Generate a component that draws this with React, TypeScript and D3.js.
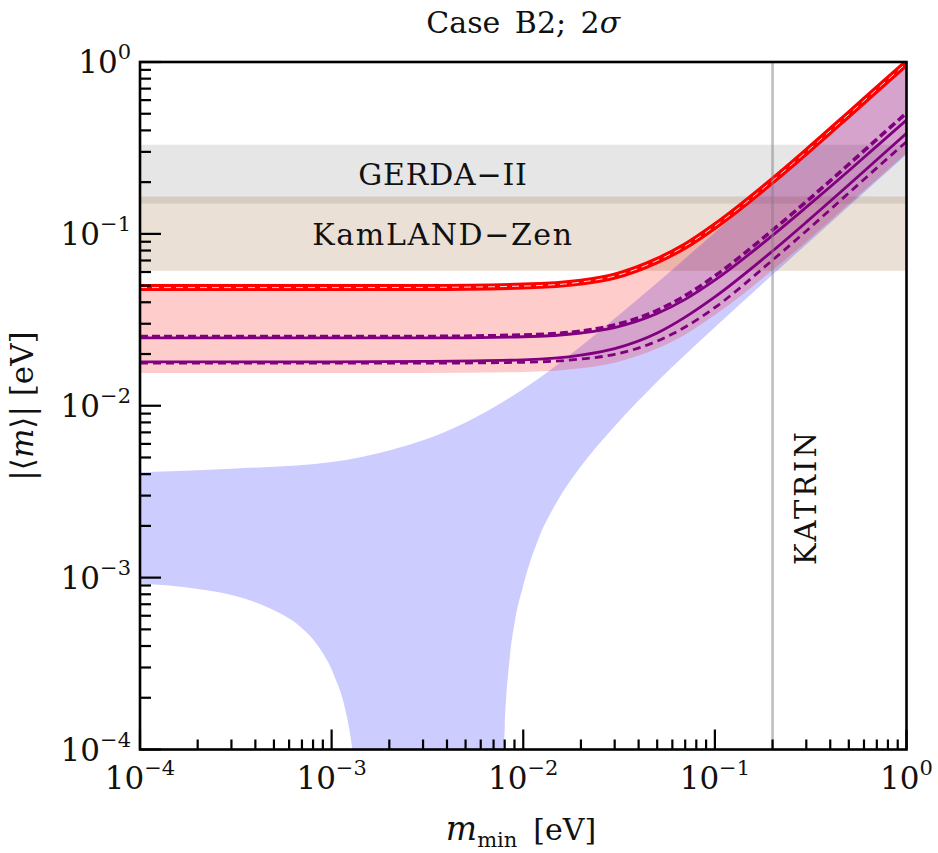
import React from 'react';
import * as d3 from 'd3';

const W = 938;
const H = 853;
const plot = { left: 140, right: 906.5, top: 62, bottom: 749.5 };
const FONT = '"DejaVu Serif", "Liberation Serif", serif';

// experimental bands, eV
const gerdaBand = [0.15, 0.33];
const kamlandBand = [0.061, 0.165];
const katrinLimit = 0.2;

// tick labels
const decades = [1e-4, 1e-3, 1e-2, 1e-1, 1];
const exponents = ['−4', '−3', '−2', '−1', '0'];

// IO curves on a common m_min grid (eV)
const ioM = [1e-4, 1e-3, 3e-3, 1e-2, 2e-2, 3e-2, 5e-2, 7e-2, 0.1, 0.2, 0.3, 0.5, 0.7, 1.0];
const ioUpper = [0.0487, 0.0487, 0.0488, 0.0497, 0.0524, 0.0568, 0.0700, 0.0850, 0.111, 0.204, 0.300, 0.496, 0.693, 0.985];
const ioLower = [0.0155, 0.0155, 0.0155, 0.0157, 0.0165, 0.0178, 0.0215, 0.0260, 0.0337, 0.0615, 0.090, 0.149, 0.207, 0.295];
const dashedUpper = [0.0253, 0.0253, 0.0253, 0.0258, 0.0272, 0.0295, 0.0359, 0.0437, 0.0569, 0.105, 0.154, 0.254, 0.355, 0.505];
const solidUpper = [0.0248, 0.0248, 0.0248, 0.0252, 0.0265, 0.0285, 0.0344, 0.0416, 0.0538, 0.098, 0.143, 0.233, 0.324, 0.459];
const solidLower = [0.0180, 0.0180, 0.0181, 0.0185, 0.0197, 0.0215, 0.0265, 0.0328, 0.0430, 0.0795, 0.117, 0.193, 0.270, 0.385];
const dashedLower = [0.0177, 0.0177, 0.0177, 0.0179, 0.0187, 0.0199, 0.0238, 0.0287, 0.0373, 0.0704, 0.104, 0.173, 0.242, 0.344];

// NO band
const noUpperM = [1e-4, 3e-4, 1e-3, 2e-3, 3e-3, 5e-3, 1e-2, 2e-2, 3e-2, 5e-2, 0.1, 0.2, 0.5, 1.0];
const noUpper = [0.0041, 0.0043, 0.0047, 0.0055, 0.0063, 0.0080, 0.0125, 0.0222, 0.0322, 0.052, 0.102, 0.203, 0.50, 0.99];
const noLowerM = [1e-4, 2e-4, 3.33e-4, 5.37e-4, 6.84e-4, 8.7e-4, 1.016e-3, 1.197e-3, 1.27e-3, 1.35e-3, 1.4e-3, 1.45e-3,
  7.7e-3, 7.85e-3, 8e-3, 8.5e-3, 9e-3, 1e-2, 1.2e-2, 1.5e-2, 2e-2, 3e-2, 5e-2, 0.1, 0.2, 0.5, 1.0];
const noLower = [0.00092, 0.00086, 0.00077, 0.00062, 0.00052, 0.000385, 0.00028, 0.000158, 0.000108, 5.6e-5, 2.5e-5, 1e-5,
  1e-5, 7e-5, 0.00013, 0.00034, 0.00054, 0.0009, 0.00168, 0.00276, 0.00444, 0.0076, 0.0138, 0.0286, 0.0578, 0.145, 0.29];

const zip = (ms: number[], vs: number[]): [number, number][] => ms.map((m, i) => [m, vs[i]]);

const App = () => {
  const x = d3.scaleLog().domain([1e-4, 1]).range([plot.left, plot.right]);
  const y = d3.scaleLog().domain([1e-4, 1]).range([plot.bottom, plot.top]);

  const line = d3.line<[number, number]>()
    .x(d => x(d[0]))
    .y(d => y(d[1]))
    .curve(d3.curveMonotoneX);

  const band = (upper: [number, number][], lower: [number, number][]) =>
    line(upper) + 'L' + (line(lower.slice().reverse()) as string).slice(1) + 'Z';

  const noPath = band(zip(noUpperM, noUpper), zip(noLowerM, noLower));
  const ioPath = band(zip(ioM, ioUpper), zip(ioM, ioLower));

  const minors: number[] = [];
  decades.slice(0, 4).forEach(d => {
    for (let k = 2; k <= 9; k++) minors.push(d * k);
  });

  const pw = plot.right - plot.left;

  return (
    <svg width={W} height={H} style={{ position: 'absolute', left: 0, top: 0, background: '#fff' }}>
      <defs>
        <clipPath id="plotClip">
          <rect x={plot.left} y={plot.top} width={pw} height={plot.bottom - plot.top} />
        </clipPath>
      </defs>

      <g clipPath="url(#plotClip)">
        <rect x={plot.left} width={pw} y={y(gerdaBand[1])} height={y(gerdaBand[0]) - y(gerdaBand[1])}
          fill="rgb(128,128,128)" fillOpacity={0.2} />
        <rect x={plot.left} width={pw} y={y(kamlandBand[1])} height={y(kamlandBand[0]) - y(kamlandBand[1])}
          fill="rgb(150,100,50)" fillOpacity={0.2} />

        <path d={noPath} fill="rgb(0,0,255)" fillOpacity={0.2} />
        <path d={ioPath} fill="rgb(255,0,0)" fillOpacity={0.2} />

        <path d={line(zip(ioM, solidUpper)) as string} fill="none" stroke="#800080" strokeWidth={2.8} />
        <path d={line(zip(ioM, solidLower)) as string} fill="none" stroke="#800080" strokeWidth={2.8} />
        <path d={line(zip(ioM, dashedUpper)) as string} fill="none" stroke="#800080" strokeWidth={3.6} strokeDasharray="8 4" />
        <path d={line(zip(ioM, dashedLower)) as string} fill="none" stroke="#800080" strokeWidth={2.8} strokeDasharray="8 5" />

        <path d={line(zip(ioM, ioUpper)) as string} fill="none" stroke="#ff0000" strokeWidth={7} />
        <path d={line(zip(ioM, ioUpper)) as string} fill="none" stroke="#fff" strokeWidth={1} strokeDasharray="7 5" strokeOpacity={0.85} />

        <line x1={x(katrinLimit)} x2={x(katrinLimit)} y1={plot.top} y2={plot.bottom}
          stroke="rgb(128,128,128)" strokeOpacity={0.5} strokeWidth={2.6} />
      </g>

      <g fontFamily={FONT} fill="#111">
        <text x={443} y={185} fontSize={30} textAnchor="middle" letterSpacing={0.8}>GERDA−II</text>
        <text x={443} y={245} fontSize={30} textAnchor="middle" letterSpacing={1.6}>KamLAND−Zen</text>
        <text transform={`translate(816,497) rotate(-90)`} fontSize={29} textAnchor="middle" letterSpacing={3}>KATRIN</text>
      </g>

      {/* frame */}
      <rect x={plot.left} y={plot.top} width={pw} height={plot.bottom - plot.top}
        fill="none" stroke="#000" strokeWidth={2.6} />

      {/* ticks */}
      <g stroke="#000" strokeWidth={2.2}>
        {decades.map((d, i) => (
          <g key={'maj' + i}>
            <line x1={x(d)} x2={x(d)} y1={plot.bottom} y2={plot.bottom - 20} />
            <line x1={plot.left} x2={plot.left + 21} y1={y(d)} y2={y(d)} />
          </g>
        ))}
        {minors.map((d, i) => (
          <g key={'min' + i}>
            <line x1={x(d)} x2={x(d)} y1={plot.bottom} y2={plot.bottom - 10} />
            <line x1={plot.left} x2={plot.left + 11} y1={y(d)} y2={y(d)} />
          </g>
        ))}
      </g>

      {/* tick labels */}
      <g fontFamily={FONT} fill="#111">
        {decades.map((d, i) => (
          <text key={'xl' + i} x={x(d)} y={789} textAnchor="middle" fontSize={31}>
            10<tspan fontSize={21} dy={-14}>{exponents[i]}</tspan>
          </text>
        ))}
        {decades.map((d, i) => (
          <text key={'yl' + i} x={131} y={y(d) + 11} textAnchor="end" fontSize={31}>
            10<tspan fontSize={21} dy={-14}>{exponents[i]}</tspan>
          </text>
        ))}
      </g>

      {/* titles */}
      <g fontFamily={FONT} fill="#111">
        <text x={(plot.left + plot.right) / 2} y={33} textAnchor="middle" fontSize={30} wordSpacing={5}>
          Case B2;  2<tspan fontStyle="italic">σ</tspan>
        </text>
        <text x={521} y={840} textAnchor="middle" fontSize={30}>
          <tspan fontStyle="italic" fontSize={33}>m</tspan>
          <tspan fontSize={21} dy={7}>min</tspan>
          <tspan dy={-7} dx={16}>[eV]</tspan>
        </text>
        <text transform={`translate(33,406) rotate(-90)`} textAnchor="middle" fontSize={31}>
          |⟨<tspan fontStyle="italic">m</tspan>⟩| [eV]
        </text>
      </g>
    </svg>
  );
};

export default App;
